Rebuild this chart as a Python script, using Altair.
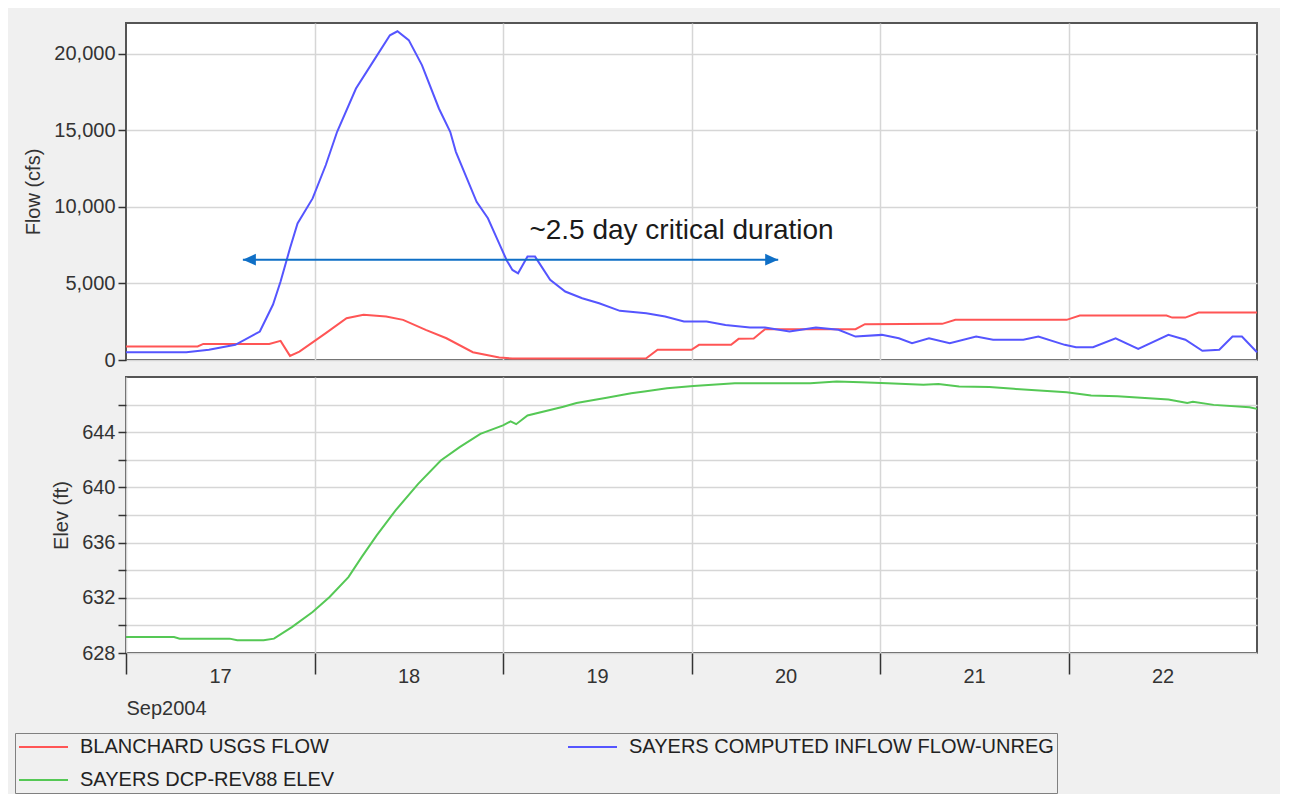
import altair as alt
import pandas as pd

# ---- data (x = day of September 2004, 17.0 = Sep 17 00:00) ----
blue_day = [17.00, 17.32, 17.44, 17.58, 17.71, 17.78, 17.82, 17.87, 17.91, 17.99, 18.06, 18.12, 18.22, 18.31,
            18.40, 18.44, 18.50, 18.57, 18.66, 18.72, 18.75, 18.86, 18.92, 18.98, 19.02, 19.05, 19.08, 19.13,
            19.17, 19.25, 19.33, 19.42, 19.51, 19.62, 19.76, 19.86, 19.96, 20.08, 20.18, 20.31, 20.39, 20.52,
            20.66, 20.78, 20.87, 21.01, 21.10, 21.17, 21.26, 21.37, 21.51, 21.60, 21.76, 21.84, 21.98, 22.04,
            22.13, 22.25, 22.37, 22.53, 22.62, 22.71, 22.80, 22.87, 22.92, 23.00]
blue_flow = [500, 510, 665, 990, 1860, 3620, 5120, 7290, 8920, 10550, 12730, 14900, 17720, 19460,
             21200, 21460, 20880, 19250, 16420, 14900, 13590, 10330, 9250, 7600, 6500, 5880, 5660, 6750,
             6750, 5230, 4470, 4030, 3700, 3210, 3050, 2840, 2510, 2510, 2290, 2120, 2120, 1860,
             2120, 1970, 1530, 1640, 1420, 1100, 1420, 1100, 1530, 1320, 1320, 1530, 990, 835,
             835, 1420, 730, 1640, 1320, 600, 665, 1530, 1530, 510]

red_day = [17.00, 17.38, 17.41, 17.76, 17.82, 17.87, 17.92, 18.06, 18.17, 18.26, 18.38, 18.47, 18.59, 18.70,
           18.84, 18.98, 19.05, 19.76, 19.82, 20.00, 20.04, 20.21, 20.25, 20.33, 20.39, 20.87, 20.92, 21.33,
           21.40, 21.99, 22.06, 22.52, 22.55, 22.62, 22.69, 23.00]
red_flow = [880, 880, 1050, 1050, 1250, 270, 550, 1750, 2730, 2950, 2840, 2620, 1970, 1420,
            510, 160, 100, 110, 665, 665, 990, 990, 1380, 1400, 2010, 2010, 2340, 2360,
            2620, 2620, 2900, 2900, 2770, 2770, 3100, 3100]

green_day = [17.00, 17.255, 17.285, 17.55, 17.59, 17.73, 17.785, 17.88, 17.99, 18.08, 18.18, 18.25, 18.33,
             18.43, 18.55, 18.67, 18.77, 18.88, 19.00, 19.04, 19.07, 19.13, 19.32, 19.39, 19.55, 19.68,
             19.75, 19.87, 20.01, 20.23, 20.63, 20.77, 20.90, 21.04, 21.23, 21.31, 21.42, 21.58, 21.71,
             21.99, 22.12, 22.26, 22.53, 22.63, 22.66, 22.77, 22.96, 23.00]
green_elev = [629.16, 629.16, 629.04, 629.04, 628.92, 628.92, 629.04, 629.88, 630.97, 632.06, 633.50, 634.95,
              636.52, 638.33, 640.26, 641.95, 642.92, 643.88, 644.49, 644.78, 644.58, 645.21, 645.85, 646.12,
              646.49, 646.83, 646.95, 647.19, 647.35, 647.55, 647.55, 647.67, 647.62, 647.55, 647.43, 647.50,
              647.31, 647.27, 647.14, 646.90, 646.66, 646.61, 646.37, 646.12, 646.20, 645.98, 645.81, 645.69]

series_names = ["BLANCHARD USGS FLOW", "SAYERS COMPUTED INFLOW FLOW-UNREG", "SAYERS DCP-REV88 ELEV"]
series_colors = ["#ff5555", "#5555ff", "#55c855"]

day_ticks = [17, 18, 19, 20, 21, 22]
grid_days = [18, 19, 20, 21, 22]
flow_ticks = [0, 5000, 10000, 15000, 20000]
elev_ticks = [628, 630, 632, 634, 636, 638, 640, 642, 644, 646]

arrow_day = [17.62]
arrow_day2 = [20.46]
arrow_flow = [6550]
note_day = [19.14]
note_flow = [7930]
note_text = ["~2.5 day critical duration"]

FONT = "Liberation Sans"
ARROW_COLOR = "#0f6fc6"

# ---- tables ----
flow_df = pd.concat([
    pd.DataFrame({"day": red_day, "flow": red_flow, "series": series_names[0]}),
    pd.DataFrame({"day": blue_day, "flow": blue_flow, "series": series_names[1]}),
])
elev_df = pd.DataFrame({"day": green_day, "elev": green_elev, "series": series_names[2]})
arrow_df = pd.DataFrame({"day": arrow_day, "day2": arrow_day2, "flow": arrow_flow})
left_head_df = pd.DataFrame({"day": arrow_day, "flow": arrow_flow})
right_head_df = pd.DataFrame({"day": arrow_day2, "flow": arrow_flow})
note_df = pd.DataFrame({"day": note_day, "flow": note_flow, "label": note_text})

x_scale = alt.Scale(domain=[17, 23], nice=False, zero=False)

color_enc = alt.Color(
    "series:N",
    scale=alt.Scale(domain=series_names, range=series_colors),
    legend=alt.Legend(
        orient="none", legendX=-111, legendY=710, columns=2, direction="horizontal", title=None,
        symbolType="M-1,0H3.9", symbolSize=400, symbolStrokeWidth=2,
        labelOffset=40, labelFontSize=20, labelFont=FONT, labelColor="#222222", labelLimit=1000,
        padding=3, rowPadding=12, columnPadding=229,
        strokeColor="#808080", fillColor="#f0f0f0",
    ),
)

x_top = alt.X("day:Q", scale=x_scale,
              axis=alt.Axis(values=grid_days, labels=False, ticks=False, domain=False, title=None,
                            grid=True, minExtent=0, maxExtent=0))
y_flow = alt.Y("flow:Q", scale=alt.Scale(domain=[0, 22000], nice=False),
               axis=alt.Axis(values=flow_ticks, format=",d", title="Flow (cfs)", titlePadding=10,
                             tickSize=8, labelPadding=3))

flow_lines = alt.Chart(flow_df).mark_line(strokeWidth=2).encode(x=x_top, y=y_flow, color=color_enc)
arrow_line = alt.Chart(arrow_df).mark_rule(color=ARROW_COLOR, strokeWidth=2).encode(
    x=x_top, x2=alt.X2("day2:Q"), y=y_flow)
left_head = alt.Chart(left_head_df).mark_point(
    shape="M0,0L2,-0.9L2,0.9Z", size=169, filled=True, opacity=1, color=ARROW_COLOR
).encode(x=x_top, y=y_flow)
right_head = alt.Chart(right_head_df).mark_point(
    shape="M0,0L-2,-0.9L-2,0.9Z", size=169, filled=True, opacity=1, color=ARROW_COLOR
).encode(x=x_top, y=y_flow)
note = alt.Chart(note_df).mark_text(
    align="left", baseline="alphabetic", fontSize=28, font=FONT, color="#1a1a1a"
).encode(x=x_top, y=y_flow, text="label:N")

top = alt.layer(flow_lines, arrow_line, left_head, right_head, note).properties(width=1131, height=337)

x_bot = alt.X("day:Q", scale=x_scale,
              axis=alt.Axis(values=day_ticks, format="d",
                            labelOffset=94, labelFlush=False, labelOverlap=False,
                            tickSize=21, labelPadding=-8, grid=True, domain=False,
                            title="Sep2004", titleAnchor="start", titleAlign="left", titlePadding=12))
y_elev = alt.Y("elev:Q", scale=alt.Scale(domain=[628, 648], nice=False, zero=False),
               axis=alt.Axis(values=elev_ticks,
                             labelExpr="datum.value % 4 == 0 ? format(datum.value, 'd') : ''",
                             title="Elev (ft)", titlePadding=10, tickSize=8, labelPadding=3))

bottom = alt.Chart(elev_df).mark_line(strokeWidth=2).encode(
    x=x_bot, y=y_elev, color=color_enc).properties(width=1131, height=276)

chart = alt.vconcat(top, bottom, spacing=5).resolve_scale(
    x="independent", y="independent", color="shared"
).configure(
    background="#f0f0f0",
    padding={"left": 6, "top": 14, "right": 18, "bottom": 0},
    font=FONT,
).configure_view(
    fill="white", stroke="#555555", strokeWidth=2
).configure_axis(
    labelFont=FONT, labelFontSize=20, labelColor="#333333",
    titleFont=FONT, titleFontSize=20, titleFontWeight="normal", titleColor="#333333",
    gridColor="#d6d6d6", gridWidth=1.5, tickColor="#333333", tickWidth=1.5, domain=False,
)

chart.save("out.html", embed_options={"renderer": "svg", "actions": False})
